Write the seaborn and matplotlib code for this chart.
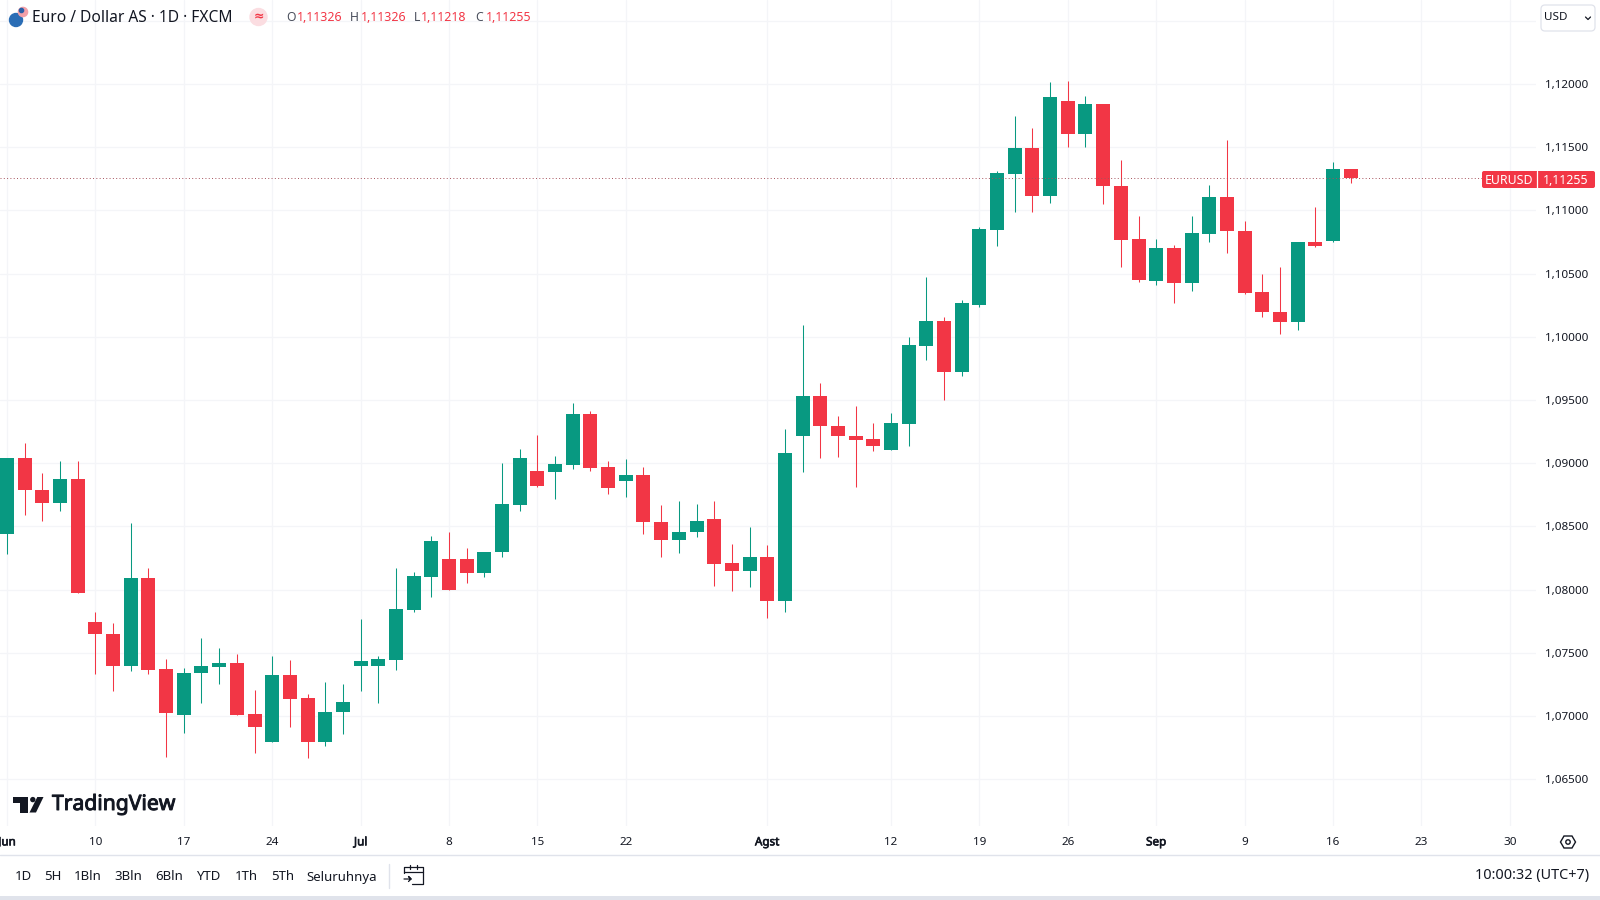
import matplotlib
matplotlib.use("Agg")
import matplotlib.pyplot as plt
import matplotlib.patheffects as pe
from matplotlib.patches import Circle, FancyBboxPatch, Polygon, Rectangle
import pandas as pd
import seaborn as sns

# -----------------------------
# Daily EURUSD candles
# -----------------------------

opens = [1.08441, 1.09045, 1.08786, 1.08686, 1.08873, 1.07740, 1.07652, 1.07397, 1.08090, 1.07370,
         1.07009, 1.07339, 1.07389, 1.07418, 1.07014, 1.06798, 1.07323, 1.07141, 1.06798, 1.07030,
         1.07397, 1.07397, 1.07444, 1.07840, 1.08103, 1.08241, 1.08241, 1.08132, 1.08296, 1.08670,
         1.08939, 1.08934, 1.08987, 1.09388, 1.08966, 1.08860, 1.08905, 1.08536, 1.08391, 1.08452,
         1.08557, 1.08209, 1.08148, 1.08259, 1.07906, 1.09217, 1.09528, 1.09296, 1.09217, 1.09190,
         1.09106, 1.09312, 1.09929, 1.10127, 1.09718, 1.10254, 1.10847, 1.11287, 1.11493, 1.11116,
         1.11868, 1.11604, 1.11841, 1.11195, 1.10773, 1.10444, 1.10702, 1.10425, 1.10813, 1.11103,
         1.10834, 1.10351, 1.10198, 1.10114, 1.10747, 1.10760, 1.11326]
highs = [1.09045, 1.09163, 1.08921, 1.09018, 1.09021, 1.07819, 1.07732, 1.08525, 1.08169, 1.07449,
         1.07376, 1.07616, 1.07536, 1.07489, 1.07207, 1.07471, 1.07442, 1.07178, 1.07267, 1.07252,
         1.07766, 1.07471, 1.08169, 1.08140, 1.08425, 1.08452, 1.08333, 1.08301, 1.09000, 1.09116,
         1.09222, 1.09058, 1.09480, 1.09414, 1.09018, 1.09032, 1.08966, 1.08670, 1.08702, 1.08681,
         1.08702, 1.08359, 1.08496, 1.08351, 1.09269, 1.10092, 1.09633, 1.09370, 1.09454, 1.09317,
         1.09396, 1.09995, 1.10477, 1.10158, 1.10293, 1.10866, 1.11309, 1.11744, 1.11651, 1.12018,
         1.12021, 1.11907, 1.11841, 1.11398, 1.10953, 1.10773, 1.10728, 1.10953, 1.11203, 1.11559,
         1.10913, 1.10496, 1.10549, 1.10747, 1.11024, 1.11380, 1.11326]
lows = [1.08280, 1.08591, 1.08546, 1.08623, 1.07974, 1.07331, 1.07199, 1.07355, 1.07331, 1.06677,
        1.06864, 1.07104, 1.07252, 1.07009, 1.06711, 1.06798, 1.06914, 1.06666, 1.06764, 1.06856,
        1.07199, 1.07104, 1.07365, 1.07824, 1.07945, 1.07998, 1.08053, 1.08103, 1.08259, 1.08620,
        1.08813, 1.08715, 1.08953, 1.08939, 1.08755, 1.08734, 1.08438, 1.08259, 1.08288, 1.08420,
        1.08030, 1.07987, 1.08019, 1.07779, 1.07819, 1.08927, 1.09040, 1.09053, 1.08813, 1.09093,
        1.09106, 1.09138, 1.09818, 1.09499, 1.09686, 1.10233, 1.10720, 1.10989, 1.10984, 1.11058,
        1.11498, 1.11498, 1.11050, 1.10554, 1.10436, 1.10409, 1.10267, 1.10364, 1.10747, 1.10660,
        1.10341, 1.10154, 1.10022, 1.10056, 1.10710, 1.10752, 1.11218]
closes = [1.09045, 1.08786, 1.08686, 1.08873, 1.07974, 1.07650, 1.07397, 1.08090, 1.07365, 1.07025,
          1.07344, 1.07397, 1.07418, 1.07009, 1.06911, 1.07323, 1.07136, 1.06798, 1.07035, 1.07112,
          1.07436, 1.07449, 1.07845, 1.08109, 1.08386, 1.07998, 1.08132, 1.08301, 1.08676, 1.09045,
          1.08821, 1.08992, 1.09388, 1.08960, 1.08807, 1.08905, 1.08531, 1.08391, 1.08457, 1.08544,
          1.08201, 1.08148, 1.08259, 1.07906, 1.09084, 1.09528, 1.09291, 1.09212, 1.09185, 1.09138,
          1.09317, 1.09934, 1.10127, 1.09718, 1.10266, 1.10852, 1.11293, 1.11493, 1.11116, 1.11894,
          1.11604, 1.11841, 1.11190, 1.10765, 1.10449, 1.10702, 1.10425, 1.10821, 1.11103, 1.10834,
          1.10346, 1.10193, 1.10114, 1.10747, 1.10715, 1.11327, 1.11255]

time_ticks = [0, 5, 10, 15, 20, 25, 30, 35, 43, 50, 55, 60, 65, 70, 75, 80, 85]
time_labels = ["Jun", "10", "17", "24", "Jul", "8", "15", "22", "Agst", "12", "19", "26", "Sep", "9", "16", "23", "30"]
month_labels = ["Jun", "Jul", "Agst", "Sep"]
price_ticks = [1.065, 1.07, 1.075, 1.08, 1.085, 1.09, 1.095, 1.10, 1.105, 1.11, 1.115, 1.12]
top_gridline = 1.125
ohlc_labels = ["O", "H", "L", "C"]
ohlc_values = ["1,11326", "1,11326", "1,11218", "1,11255"]
ranges = ["1D", "5H", "1Bln", "3Bln", "6Bln", "YTD", "1Th", "5Th", "Seluruhnya"]

GREEN = "#089981"
RED = "#F23645"
INK = "#131722"
GRID = "#F4F5F8"
RULE = "#E0E3EB"
W, H = 1600, 900

sns.set_theme(style="white")
plt.rcParams["font.family"] = ["Noto Sans", "DejaVu Sans"]

df = pd.DataFrame({"open": opens, "high": highs, "low": lows, "close": closes})
df["day"] = range(len(df))
df["up"] = df["close"] >= df["open"]
df["body"] = (df["close"] - df["open"]).abs()
df["base"] = df[["open", "close"]].min(axis=1)

fig = plt.figure(figsize=(16, 9), dpi=100, facecolor="white")

# price pane: pixels 0-1536 across, 0-826 down
ax = fig.add_axes([0, 1 - 826 / H, 1536 / W, 826 / H])
ax.set_axisbelow(True)
ax.grid(True, color=GRID, linewidth=0.9)
ax.axhline(top_gridline, color=GRID, linewidth=0.9, zorder=1)

# -----------------------------
# Candles
# -----------------------------

for is_up, colour in [(True, GREEN), (False, RED)]:
    part = df[df["up"] == is_up]
    ax.vlines(part["day"], part["low"], part["high"], color=colour, linewidth=0.75, zorder=2)
    sns.barplot(data=part, x="day", y="body", bottom=part["base"].to_numpy(), native_scale=True,
                width=0.79, color=colour, saturation=1, errorbar=None, linewidth=0, zorder=3, ax=ax)

ax.axhline(closes[-1], color="#A5525C", linewidth=0.7, linestyle=(0, (1, 2.4)), zorder=4)

ax.set_xlim(-7 / 17.68, (1536 - 7) / 17.68)
ax.set_ylim(1.12 - (826 - 84) * 0.005 / 63.2, 1.12 + 84 * 0.005 / 63.2)
ax.set_xlabel("")
ax.set_ylabel("")
for side in ax.spines.values():
    side.set_visible(False)

heavy = [pe.withStroke(linewidth=0.45, foreground=INK)]

ax.set_xticks(time_ticks)
ax.set_xticklabels(time_labels, fontsize=8.4, color=INK)
for label in ax.get_xticklabels():
    if label.get_text() in month_labels:
        label.set_path_effects(heavy)
ax.tick_params(axis="x", length=0, pad=8.2)

ax.yaxis.tick_right()
ax.set_yticks(price_ticks)
ax.set_yticklabels([f"{p:.5f}".replace(".", ",") for p in price_ticks], fontsize=8.4, color=INK, ha="right")
ax.tick_params(axis="y", length=0, pad=37.5)

# -----------------------------
# Window furniture, in pixels
# -----------------------------

ui = fig.add_axes([0, 0, 1, 1], zorder=5)
ui.set_xlim(0, W)
ui.set_ylim(H, 0)
ui.axis("off")


def put(x, y, s, size=8.4, color=INK, ha="left", **kw):
    return ui.text(x, y, s, fontsize=size, color=color, ha=ha, va="center", **kw)


# header
ui.add_patch(Circle((16, 20), 6.5, color="#2A6DB5"))
ui.add_patch(Circle((23, 12), 4.6, color="#F2A0A8"))
ui.add_patch(Circle((21.5, 10.5), 2.1, color="#2A5FA8"))
put(32.5, 17.5, "Euro / Dollar AS · 1D · FXCM", size=11.2)
ui.add_patch(Circle((258.5, 17), 8.5, color="#FBDDE1"))
put(258.5, 16.5, "≈", size=9, color=RED, ha="center", fontweight="bold", family=["DejaVu Sans"])
for x, name, x_val, val in zip([286, 350, 413.5, 475], ohlc_labels, [297, 361, 421, 486], ohlc_values):
    put(x, 17.5, name, size=8.8, color="#4A4F5C")
    put(x_val, 17.5, val, size=8.9, color=RED)

# currency box
ui.add_patch(FancyBboxPatch((1543, 7), 50, 22, boxstyle="round,pad=2,rounding_size=4",
                            facecolor="white", edgecolor=RULE, linewidth=0.9))
put(1544, 18, "USD", size=8.4)
ui.plot([1585.5, 1588, 1590.5], [17, 19.5, 17], color=INK, linewidth=0.9)

# last price tag
ui.add_patch(FancyBboxPatch((1484, 173), 109, 13, boxstyle="round,pad=2,rounding_size=2",
                            facecolor=RED, edgecolor="none"))
ui.plot([1536.7, 1536.7], [171, 188], color="white", linewidth=0.9)
put(1509, 180, "EURUSD", size=8.9, color="white", ha="center")
put(1589, 180, "1,11255", size=8.9, color="white", ha="right")

# logo
ui.add_patch(Polygon([(12.7, 797), (28, 797), (28, 812.5), (20, 812.5), (20, 802.5), (12.7, 802.5)],
                     color=INK, linewidth=0))
ui.add_patch(Circle((32.8, 799.6), 2.7, color=INK, linewidth=0))
ui.add_patch(Polygon([(37.3, 797), (43.5, 797), (36, 812.5), (29.5, 812.5)], color=INK, linewidth=0))
put(52, 804.5, "TradingView", size=15.2).set_path_effects([pe.withStroke(linewidth=0.7, foreground=INK)])

# settings hexagon
ui.add_patch(Polygon([(1560.5, 842), (1564, 836), (1572, 836), (1575.5, 842), (1572, 848), (1564, 848)],
                     fill=False, edgecolor=INK, linewidth=1))
ui.add_patch(Circle((1568, 842), 2.2, fill=False, edgecolor=INK, linewidth=1))

# range bar
ui.add_patch(Rectangle((0, 855), W, 41, facecolor="white", edgecolor="none"))
ui.plot([0, W], [855, 855], color=RULE, linewidth=1)
ui.add_patch(Rectangle((0, 896), W, 4, facecolor=RULE, edgecolor="none"))
for x, name in zip([23, 52.5, 87.5, 128.6, 169, 208, 246, 282.5, 342], ranges):
    put(x, 877 if name == "Seluruhnya" else 876, name, size=9.5, ha="center")
ui.plot([389, 389], [864, 888], color=RULE, linewidth=1)
ui.plot([404, 404, 423, 423, 412], [873, 867, 867, 884, 884], color=INK, linewidth=0.9)
ui.plot([404, 423], [872, 872], color=INK, linewidth=0.9)
ui.plot([410, 410], [865, 869], color=INK, linewidth=0.9)
ui.plot([417, 417], [865, 869], color=INK, linewidth=0.9)
ui.plot([404, 411, 408.5, 411, 408.5], [879, 879, 876.5, 879, 881.5], color=INK, linewidth=0.9)
put(1589, 876, "10:00:32 (UTC+7)", size=10.4, ha="right")

fig.savefig("out.png", dpi=100)
plt.close(fig)
